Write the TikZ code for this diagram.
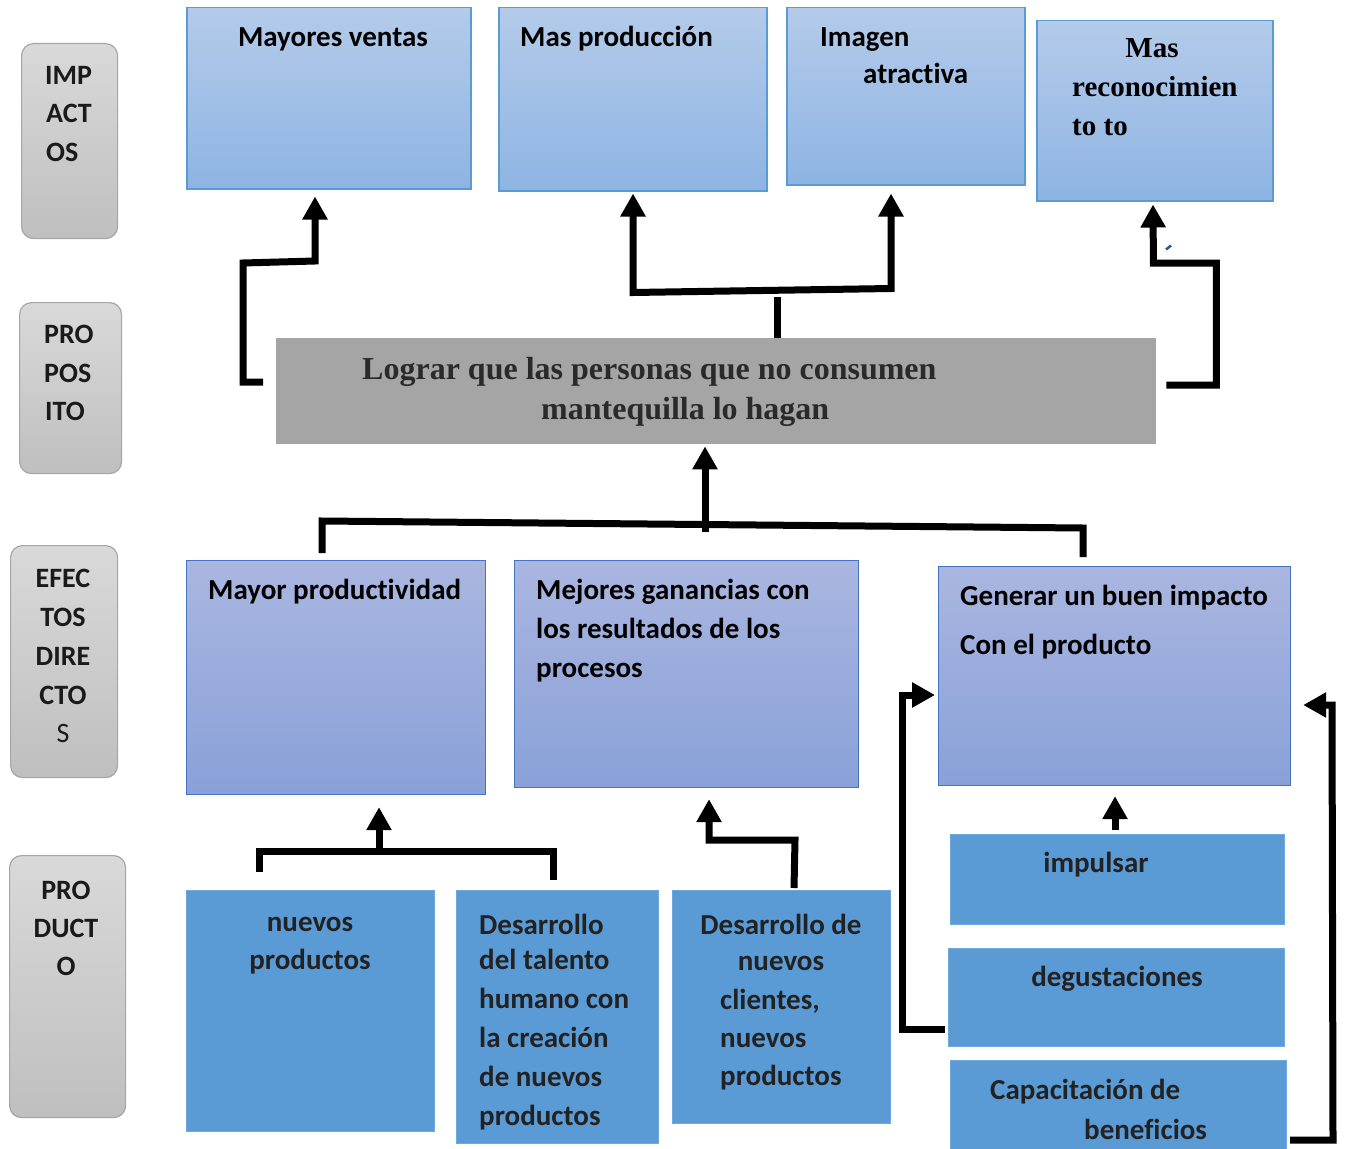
\documentclass[tikz,border=0pt]{standalone}
\usepackage{fontspec}
\setmainfont[Ligatures=NoCommon]{Carlito}
\newfontfamily\boxfont[Ligatures=NoCommon]{Carlito}
\newfontfamily\titlefont{Liberation Serif}
\newfontfamily\seriffont{Liberation Serif}
\usetikzlibrary{arrows.meta,calc}

\definecolor{labtop}{HTML}{D9D9D9}
\definecolor{labbot}{HTML}{BFBFBF}
\definecolor{labedge}{HTML}{A6A6A6}
\definecolor{labtext}{HTML}{1A1A1A}
\definecolor{toptop}{HTML}{B4CBEA}
\definecolor{topbot}{HTML}{8EB4E3}
\definecolor{topedge}{HTML}{5B9BD5}
\definecolor{midtop}{HTML}{AAB6E0}
\definecolor{midbot}{HTML}{89A1D8}
\definecolor{midedge}{HTML}{4472C4}
\definecolor{lowfill}{HTML}{5B9BD5}
\definecolor{lowedge}{HTML}{6FA8DC}
\definecolor{lowtext}{HTML}{222222}
\definecolor{graybox}{HTML}{A5A5A5}
\definecolor{titletext}{HTML}{2A2A2A}
\definecolor{navymark}{HTML}{2F5597}

\tikzset{
  hd/.tip={Triangle[width=24pt,length=23pt]},
  lab/.style={rounded corners=12pt, draw=labedge, line width=1.2pt,
    top color=labtop, bottom color=labbot, anchor=north west, inner sep=0pt},
  topbox/.style={draw=topedge, line width=1.5pt, top color=toptop,
    bottom color=topbot, anchor=north west, inner sep=0pt},
  midbox/.style={draw=midedge, line width=1.2pt, top color=midtop,
    bottom color=midbot, anchor=north west, inner sep=0pt},
  lowbox/.style={fill=lowfill, draw=lowedge, line width=1pt,
    anchor=north west, inner sep=0pt},
  titlebox/.style={fill=graybox, anchor=north west, inner sep=0pt},
  labtxt/.style={font=\fontsize{28}{34}\selectfont\bfseries, text=labtext,
    inner sep=0pt},
  toptxt/.style={font=\boxfont\fontsize{29}{34}\selectfont\bfseries,
    text=black, inner sep=0pt},
  midtxt/.style={font=\boxfont\fontsize{29}{34}\selectfont\bfseries,
    text=black, inner sep=0pt},
  lowtxt/.style={font=\boxfont\fontsize{29}{34}\selectfont\bfseries,
    text=lowtext, inner sep=0pt},
  sertxt/.style={font=\seriffont\fontsize{29}{34}\selectfont\bfseries,
    text=black, inner sep=0pt},
  ttltxt/.style={font=\titlefont\fontsize{32}{38}\selectfont\bfseries,
    text=titletext, inner sep=0pt},
  conn/.style={line width=7pt, line join=miter, line cap=butt, draw=black},
  up/.style={-hd},
}

\begin{document}
\begin{tikzpicture}[x=1pt,y=-1pt]
\useasboundingbox (0,0) rectangle (1348,1148);
\fill[white] (0,0) rectangle (1348,1148);

% ---- row labels on the left
\node[lab, minimum width=96pt, minimum height=195pt] (impL) at (21,43) {};
\node[lab, minimum width=102pt, minimum height=171pt] (propL) at (19,302) {};
\node[lab, minimum width=107pt, minimum height=232pt] (efL) at (10,545) {};
\node[lab, minimum width=116pt, minimum height=262pt] (prodL) at (9,855) {};

\node[labtxt, anchor=base west] (l1a) at (45,84) {IMP};
\node[labtxt, anchor=base west] (l1b) at (46,122) {ACT};
\node[labtxt, anchor=base west] (l1c) at (46,161) {OS};

\node[labtxt, anchor=base west] (l2a) at (44,343) {PRO};
\node[labtxt, anchor=base west] (l2b) at (44,382) {POS};
\node[labtxt, anchor=base west] (l2c) at (45,420) {ITO};

\node[labtxt, anchor=base] (l3a) at (63,587) {EFEC};
\node[labtxt, anchor=base] (l3b) at (63,626) {TOS};
\node[labtxt, anchor=base] (l3c) at (63,665) {DIRE};
\node[labtxt, anchor=base] (l3d) at (63,704) {CTO};
\node[labtxt, anchor=base, font=\fontsize{28}{34}\selectfont] (l3e) at (63,742) {S};

\node[labtxt, anchor=base] (l4a) at (66,899) {PRO};
\node[labtxt, anchor=base] (l4b) at (66,937) {DUCT};
\node[labtxt, anchor=base] (l4c) at (66,975) {O};

% ---- impacts
\node[topbox, minimum width=284pt, minimum height=181pt] (mv) at (186,7) {};
\node[topbox, minimum width=268pt, minimum height=183pt] (mp) at (498,7) {};
\node[topbox, minimum width=238pt, minimum height=177pt] (ia) at (786,7) {};
\node[topbox, minimum width=236pt, minimum height=180pt] (mr) at (1036,20) {};

\node[toptxt, anchor=base] (t1) at (333,47) {Mayores ventas};
\node[toptxt, anchor=base west] (t2) at (520,47) {Mas producción};
\node[toptxt, anchor=base west] (t3a) at (820,47) {Imagen};
\node[toptxt, anchor=base west] (t3b) at (863,83) {atractiva};
\node[sertxt, anchor=base] (t4a) at (1152,57) {Mas};
\node[sertxt, anchor=base west] (t4b) at (1072,96) {reconocimien};
\node[sertxt, anchor=base west] (t4c) at (1072,135) {to to};

% ---- purpose
\node[titlebox, minimum width=880pt, minimum height=106pt] (tt) at (276,338) {};
\node[ttltxt, anchor=base west] (p1) at (362,379) {Lograr que las personas que no consumen};
\node[ttltxt, anchor=base west] (p2) at (541,419) {mantequilla lo hagan};

% ---- direct effects
\node[midbox, minimum width=299pt, minimum height=234pt] (mprod) at (186,560) {};
\node[midbox, minimum width=344pt, minimum height=227pt] (mgan) at (514,560) {};
\node[midbox, minimum width=352pt, minimum height=219pt] (gen) at (938,566) {};

\node[midtxt, anchor=base west] (e1) at (208,599) {Mayor productividad};
\node[midtxt, anchor=base west] (e2a) at (536,599) {Mejores ganancias con};
\node[midtxt, anchor=base west] (e2b) at (536,638) {los resultados de los};
\node[midtxt, anchor=base west] (e2c) at (536,677) {procesos};
\node[midtxt, anchor=base west] (e3a) at (960,605) {Generar un buen impacto};
\node[midtxt, anchor=base west] (e3b) at (960,654) {Con el producto};

% ---- product
\node[lowbox, minimum width=248pt, minimum height=241pt] (np) at (186,890) {};
\node[lowbox, minimum width=202pt, minimum height=253pt] (dt) at (456,890) {};
\node[lowbox, minimum width=218pt, minimum height=233pt] (dn) at (672,890) {};
\node[lowbox, minimum width=334pt, minimum height=90pt] (imp) at (950,834) {};
\node[lowbox, minimum width=336pt, minimum height=98pt] (deg) at (948,948) {};
\node[lowbox, minimum width=336pt, minimum height=95pt] (cap) at (950,1060) {};

\node[lowtxt, anchor=base] (b1a) at (310,931) {nuevos};
\node[lowtxt, anchor=base] (b1b) at (310,969) {productos};

\node[lowtxt, anchor=base west] (b2a) at (479,934) {Desarrollo};
\node[lowtxt, anchor=base west] (b2b) at (479,969) {del talento};
\node[lowtxt, anchor=base west] (b2c) at (479,1008) {humano con};
\node[lowtxt, anchor=base west] (b2d) at (479,1047) {la creación};
\node[lowtxt, anchor=base west] (b2e) at (479,1086) {de nuevos};
\node[lowtxt, anchor=base west] (b2f) at (479,1125) {productos};

\node[lowtxt, anchor=base] (b3a) at (781,934) {Desarrollo de};
\node[lowtxt, anchor=base] (b3b) at (781,970) {nuevos};
\node[lowtxt, anchor=base west] (b3c) at (720,1009) {clientes,};
\node[lowtxt, anchor=base west] (b3d) at (720,1047) {nuevos};
\node[lowtxt, anchor=base west] (b3e) at (720,1085) {productos};

\node[lowtxt, anchor=base] (b4) at (1096,872) {impulsar};
\node[lowtxt, anchor=base] (b5) at (1117,986) {degustaciones};
\node[lowtxt, anchor=base west] (b6a) at (990,1099) {Capacitación de};
\node[lowtxt, anchor=base west] (b6b) at (1084,1139) {beneficios};

% ---- connectors: purpose to impacts
\draw[conn, up] ($(tt.north west)+(-13,44)$) -- ++(-20,0) -- ++(0,-119)
  -- ++(72,-2) -- ($(mv.south west)+(129,7)$);
\draw[conn] ($(tt.north west)+(501,0)$) -- ++(0,-41);
\draw[conn, hd-hd] ($(mp.south west)+(135,2)$) -- ++(0,99)
  -- ($(ia.south west)+(105,103)$) -- ($(ia.south west)+(105,8)$);
\draw[conn, up] ($(tt.north east)+(10,47)$) -- ++(50,0) -- ++(0,-122)
  -- ++(-63,0) -- ($(mr.south west)+(117,3)$);
\draw[line width=2.5pt, navymark] ($(mr.south west)+(130,48)$) -- ++(5,-4);

% ---- connectors: direct effects to purpose
\draw[conn] ($(mprod.north west)+(136,-7)$) -- ++(0,-32)
  -- ($(gen.north west)+(145,-38)$) -- ($(gen.north west)+(145,-9)$);
\draw[conn, up] ($(tt.south west)+(429,88)$) -- ($(tt.south west)+(429,2)$);

% ---- connectors: product to direct effects
\draw[conn] ($(np.north west)+(73,-18)$) -- ++(0,-21)
  -- ($(dt.north west)+(97,-39)$) -- ($(dt.north west)+(97,-10)$);
\draw[conn, up] ($(mprod.south west)+(193,57)$) -- ($(mprod.south west)+(193,12)$);
\draw[conn, up] ($(dn.north west)+(122,-2)$) -- ++(1,-48) -- ++(-86,0)
  -- ($(mgan.south west)+(195,11)$);
\draw[conn, up] ($(imp.north west)+(165,-4)$) -- ($(gen.south west)+(177,10)$);
\draw[conn, up] ($(deg.north west)+(-3,81)$) -- ++(-43,0) -- ++(0,-334)
  -- ($(gen.north west)+(-3,129)$);
\draw[conn, up] ($(cap.north west)+(340,80)$) -- ++(43,0) -- ++(-1,-435)
  -- ($(gen.north east)+(12,139)$);
\end{tikzpicture}
\end{document}
